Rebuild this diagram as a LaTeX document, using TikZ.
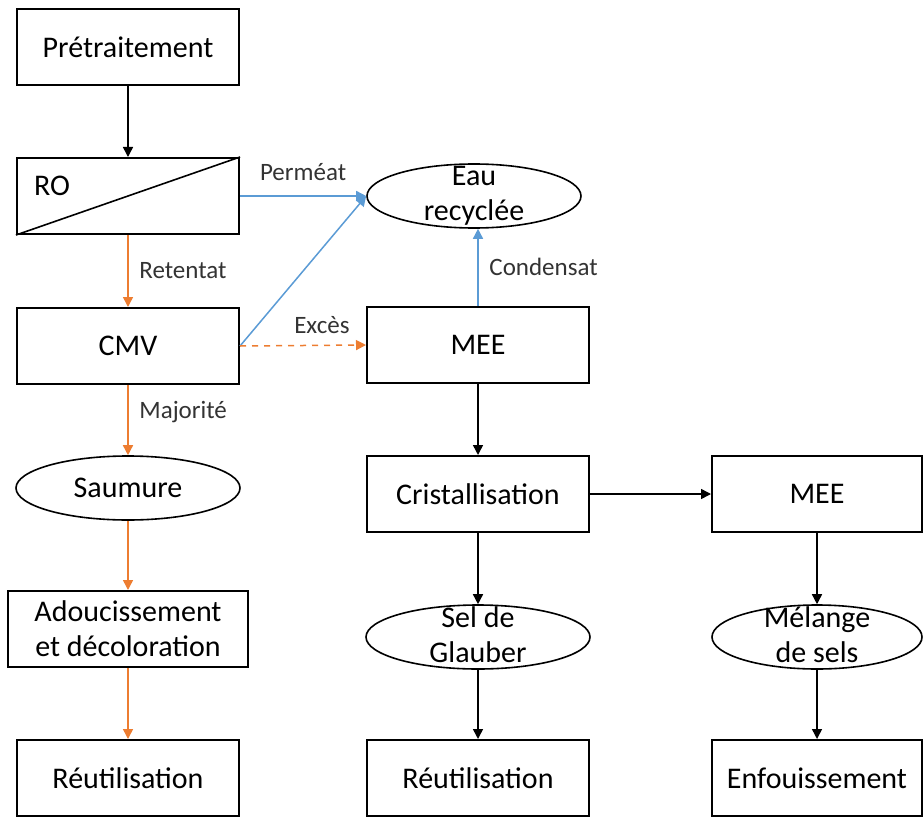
\documentclass[tikz,border=0pt]{standalone}
\usepackage{fontspec}
\setmainfont{Carlito}
\usetikzlibrary{arrows.meta,shapes.geometric}
\definecolor{flowblue}{RGB}{91,155,213}
\definecolor{floworange}{RGB}{237,125,49}

\begin{document}
\begin{tikzpicture}[x=0.5pt, y=-0.5pt,
    font=\fontsize{15}{17.5}\selectfont,
    stepbox/.style={draw, line width=1pt, minimum width=111pt, minimum height=38pt, inner sep=0pt},
    oval/.style={draw, ellipse, line width=0.8pt, minimum width=107pt, minimum height=32pt, inner sep=0pt},
    lab/.style={font=\fontsize{12.5}{14}\selectfont, text=black!80},
    tip/.style={-{Triangle[length=5pt,width=5pt]}, line width=0.75pt},
    blackflow/.style={tip, black},
    orangeflow/.style={tip, floworange},
    blueflow/.style={tip, flowblue}]
    \useasboundingbox (0,0) rectangle (924,818);

    % left column
    \node[stepbox] (pre) at (128,47) {Prétraitement};
    \node[stepbox] (ro) at (128,196) {};
    \draw[line width=0.8pt] (ro.south west) -- (ro.north east);
    \node (rotxt) at (52,186) {RO};
    \node[stepbox] (cmv) at (128,346) {CMV};
    \node[oval, minimum width=112pt] (saum) at (128,488) {Saumure};
    \node[stepbox, minimum width=120pt, align=center] (adou) at (128,629) {Adoucissement\\et décoloration};
    \node[stepbox] (reut1) at (128,778) {Réutilisation};

    % middle column
    \node[oval] (eau) at (474,196) {};
    \node[align=center] (eautxt) at (474,196) {Eau\\recyclée};
    \node[stepbox] (mee1) at (478,345) {MEE};
    \node[stepbox] (crist) at (478,494) {Cristallisation};
    \node[oval, minimum width=112pt] (glau) at (478,637) {};
    \node[align=center] (glautxt) at (478,635) {Sel de\\Glauber};
    \node[stepbox] (reut2) at (478,778) {Réutilisation};

    % right column
    \node[stepbox, minimum width=105pt] (mee2) at (817,494) {MEE};
    \node[oval, minimum width=105pt] (mel) at (817,637) {};
    \node[align=center] (meltxt) at (817,635) {Mélange\\de sels};
    \node[stepbox, minimum width=105pt] (enf) at (817,778) {Enfouissement};

    % connectors
    \draw[blackflow] (pre) -- (ro);
    \draw[orangeflow] (ro) -- node[right, lab, xshift=2pt] {Retentat} (cmv);
    \draw[blueflow] (ro.east) -- node[above, lab, yshift=4pt] {Perméat} (eau.west);
    \draw[blueflow] (cmv.east) -- (eau.west);
    \draw[orangeflow, dashed] (cmv.east) -- node[above, lab, pos=0.65, yshift=2pt] {Excès} (mee1.west);
    \draw[blueflow] (mee1.north) -- node[right, lab, xshift=2pt] {Condensat} (mee1.north |- eau.south);
    \draw[orangeflow] (cmv) -- node[right, lab, xshift=2pt, yshift=4pt] {Majorité} (saum);
    \draw[orangeflow] (saum) -- (adou);
    \draw[orangeflow] (adou) -- (reut1);
    \draw[blackflow] (mee1) -- (crist);
    \draw[blackflow] (crist) -- (mee2);
    \draw[blackflow] (crist) -- (glau);
    \draw[blackflow] (glau) -- (reut2);
    \draw[blackflow] (mee2) -- (mel);
    \draw[blackflow] (mel) -- (enf);
\end{tikzpicture}
\end{document}
